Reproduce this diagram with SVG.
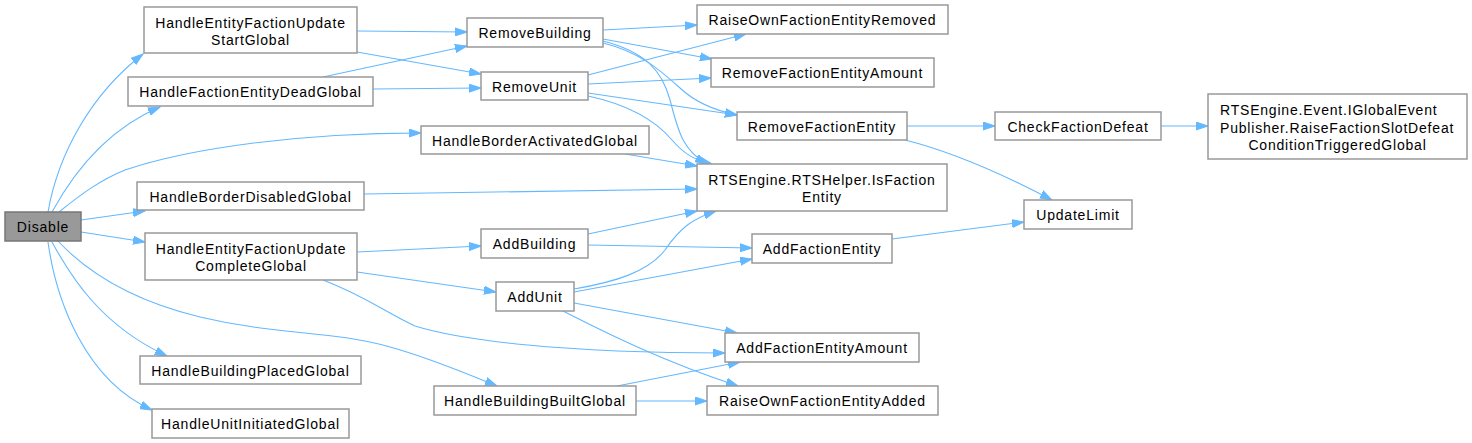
<svg xmlns="http://www.w3.org/2000/svg" width="1472" height="443" viewBox="0 0 1472 443">
<style>
.n rect{fill:#ffffff;stroke:#999999;stroke-width:1.5}
#disable rect{fill:#999999;stroke:#777777}
text{font-family:"Liberation Sans",Arial,sans-serif;font-size:14px;letter-spacing:0.8px;fill:#000000;text-anchor:middle}
text.l{text-anchor:start}
#edges path{fill:none;stroke:#63b8ff;stroke-width:1.1;marker-end:url(#ah)}
</style>
<defs>
<marker id="ah" markerWidth="13" markerHeight="9" refX="12" refY="4.5" orient="auto" markerUnits="userSpaceOnUse">
<path d="M0,0.5 L12,4.5 L0,8.5 z" fill="#63b8ff" stroke="#63b8ff" stroke-width="1"/>
</marker>
</defs>
<rect width="1472" height="443" fill="#ffffff"/>
<g id="edges">
<path d="M48,212 C58,155 90,95 143,54"/>
<path d="M52,212 C75,170 110,128 160,107"/>
<path d="M59,212 C80,195 100,180 125,170 C190,148 300,133 421,133"/>
<path d="M81,220 L145,211"/>
<path d="M81,232 L145,242"/>
<path d="M58,241 C85,270 130,300 200,317 C280,336 330,330 390,347 C430,358 465,373 497,386"/>
<path d="M52,242 C70,275 100,325 167,356"/>
<path d="M48,242 C56,300 85,380 152,410"/>
<path d="M357,31 L467,32"/>
<path d="M357,52 L481,74"/>
<path d="M323,77 L467,46"/>
<path d="M373,89 L481,88"/>
<path d="M625,154 L697,166"/>
<path d="M364,194 L697,189"/>
<path d="M357,252 L481,246"/>
<path d="M357,272 L496,292"/>
<path d="M323,280 C365,296 385,312 415,326 C460,340 560,353 725,353"/>
<path d="M603,30 L697,25"/>
<path d="M603,39 L712,59"/>
<path d="M603,43 C640,52 660,70 680,88 C695,102 712,110 737,115"/>
<path d="M603,41 C645,52 662,70 670,100 C678,130 682,150 707,164"/>
<path d="M588,75 L746,34"/>
<path d="M588,84 L711,78"/>
<path d="M588,93 L737,115"/>
<path d="M588,96 C630,105 655,120 672,140 C685,155 695,160 712,164"/>
<path d="M588,234 L697,211"/>
<path d="M588,245 L752,248"/>
<path d="M574,289 C615,282 648,272 665,250 C680,228 692,219 716,211"/>
<path d="M574,292 L752,259"/>
<path d="M574,303 L737,333"/>
<path d="M563,311 C610,335 665,362 738,386"/>
<path d="M617,386 L740,362"/>
<path d="M636,401 L707,401"/>
<path d="M907,126 L995,126"/>
<path d="M905,140 C945,150 995,170 1052,200"/>
<path d="M892,239 L1024,222"/>
<path d="M1161,126 L1208,126"/>
</g>
<g id="disable" class="n"><rect x="5" y="212" width="76" height="29"/><text x="43" y="232">Disable</text></g>
<g id="hefu_start" class="n"><rect x="144" y="7" width="213" height="46"/><text x="250.5" y="28">HandleEntityFactionUpdate</text><text x="250.5" y="45">StartGlobal</text></g>
<g id="hfe_dead" class="n"><rect x="128" y="77" width="245" height="29"/><text x="250.5" y="97">HandleFactionEntityDeadGlobal</text></g>
<g id="hb_activated" class="n"><rect x="421" y="126" width="228" height="28"/><text x="535" y="145.5">HandleBorderActivatedGlobal</text></g>
<g id="hb_disabled" class="n"><rect x="137" y="182" width="227" height="28"/><text x="250.5" y="201.5">HandleBorderDisabledGlobal</text></g>
<g id="hefu_complete" class="n"><rect x="145" y="233" width="212" height="47"/><text x="251" y="254">HandleEntityFactionUpdate</text><text x="251" y="271">CompleteGlobal</text></g>
<g id="hb_placed" class="n"><rect x="140" y="356" width="221" height="28"/><text x="250.5" y="375.5">HandleBuildingPlacedGlobal</text></g>
<g id="hu_initiated" class="n"><rect x="152" y="409" width="197" height="29"/><text x="250.5" y="429">HandleUnitInitiatedGlobal</text></g>
<g id="remove_building" class="n"><rect x="467" y="18" width="136" height="29"/><text x="535" y="38">RemoveBuilding</text></g>
<g id="remove_unit" class="n"><rect x="481" y="72" width="107" height="28"/><text x="534.5" y="91.5">RemoveUnit</text></g>
<g id="add_building" class="n"><rect x="481" y="229" width="107" height="29"/><text x="534.5" y="249">AddBuilding</text></g>
<g id="add_unit" class="n"><rect x="496" y="282" width="78" height="29"/><text x="535" y="302">AddUnit</text></g>
<g id="hb_built" class="n"><rect x="434" y="386" width="202" height="29"/><text x="535" y="406">HandleBuildingBuiltGlobal</text></g>
<g id="rofe_removed" class="n"><rect x="697" y="5" width="251" height="29"/><text x="822.5" y="25">RaiseOwnFactionEntityRemoved</text></g>
<g id="rfe_amount" class="n"><rect x="711" y="58" width="223" height="29"/><text x="822.5" y="78">RemoveFactionEntityAmount</text></g>
<g id="rfe" class="n"><rect x="737" y="112" width="170" height="28"/><text x="822" y="131.5">RemoveFactionEntity</text></g>
<g id="is_faction_entity" class="n"><rect x="697" y="164" width="250" height="47"/><text x="822" y="185">RTSEngine.RTSHelper.IsFaction</text><text x="822" y="202">Entity</text></g>
<g id="afe" class="n"><rect x="752" y="234" width="140" height="29"/><text x="822" y="254">AddFactionEntity</text></g>
<g id="afe_amount" class="n"><rect x="725" y="333" width="194" height="29"/><text x="822" y="353">AddFactionEntityAmount</text></g>
<g id="rofe_added" class="n"><rect x="707" y="386" width="231" height="29"/><text x="822.5" y="406">RaiseOwnFactionEntityAdded</text></g>
<g id="check_defeat" class="n"><rect x="995" y="112" width="166" height="28"/><text x="1078" y="131.5">CheckFactionDefeat</text></g>
<g id="update_limit" class="n"><rect x="1024" y="200" width="108" height="29"/><text x="1078" y="220">UpdateLimit</text></g>
<g id="raise_defeat" class="n"><rect x="1208" y="94" width="259" height="65"/><text class="l" x="1220" y="115">RTSEngine.Event.IGlobalEvent</text><text class="l" x="1220" y="132.5">Publisher.RaiseFactionSlotDefeat</text><text x="1337.5" y="150">ConditionTriggeredGlobal</text></g>
</svg>
